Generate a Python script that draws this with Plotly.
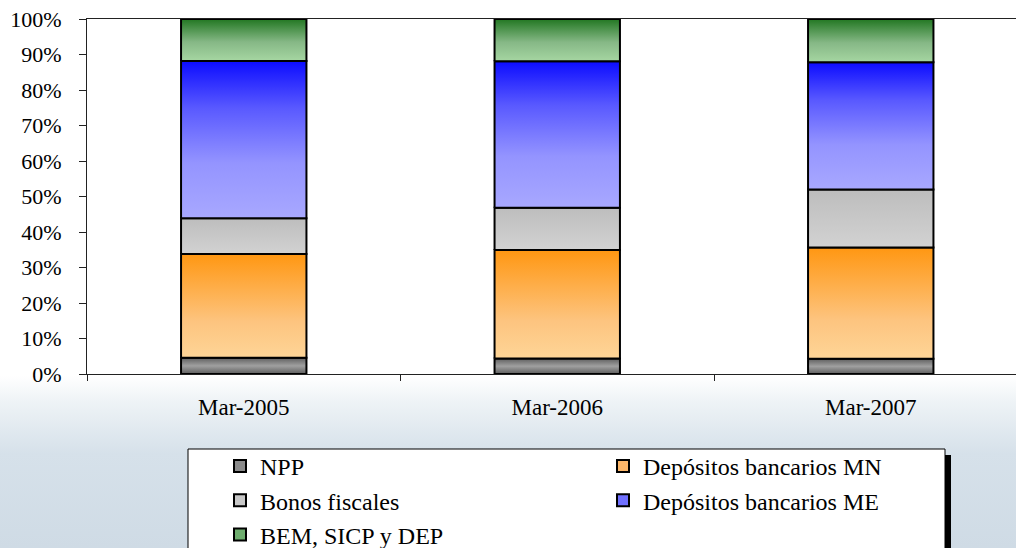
import plotly.graph_objects as go

# ---- data -------------------------------------------------------------
periods = ["Mar-2005", "Mar-2006", "Mar-2007"]
series_names = ["NPP", "Depósitos bancarios MN", "Bonos fiscales",
                "Depósitos bancarios ME", "BEM, SICP y DEP"]
npp = [4.6, 4.4, 4.3]
dep_mn = [29.2, 30.5, 31.3]
bonos = [10.1, 11.9, 16.4]
dep_me = [44.3, 41.3, 35.8]
bem = [11.8, 11.9, 12.2]
y_ticks = [0, 10, 20, 30, 40, 50, 60, 70, 80, 90, 100]
y_tick_labels = [f"{v}%" for v in y_ticks]

series_values = [npp, dep_mn, bonos, dep_me, bem]

# gradient colours (bottom -> top) and the flat colour of each legend key
gradients = [
    [[0, "#5e5e5e"], [0.5, "#a0a0a0"], [1, "#5e5e5e"]],
    [[0, "#fed597"], [0.35, "#fdc47f"], [1, "#ff9712"]],
    [[0, "#d2d2d2"], [1, "#bdbdbd"]],
    [[0, "#a8a8ff"], [0.35, "#9494ff"], [0.7, "#5959ff"], [1, "#0c0cff"]],
    [[0, "#a6d6a2"], [0.45, "#86b886"], [1, "#227722"]],
]
key_colors = ["#8a8a8a", "#fdb76a", "#c8c8c8", "#7070ff", "#6fae6f"]

# ---- geometry (pixels of the 1016 x 548 page) --------------------------
W, H = 1016, 548
PLOT_L, PLOT_R, PLOT_T, PLOT_B = 87, 1016, 19, 374
BAR_W = 0.40
X_RANGE = [-0.5, -0.5 + (PLOT_R - PLOT_L) / 313.5]


def fx(px):
    return px / W


def fy(py):
    return 1 - py / H


FONT = "Liberation Serif, Times New Roman, serif"

fig = go.Figure()

# pale backdrop fading in below the chart, on a hidden full-page subplot
# (x/y) that is drawn underneath the chart subplot (x2/y2)
bg_top = fy(376)
fig.add_trace(go.Scatter(
    x=[0, 1, 1, 0, 0], y=[0, 0, bg_top, bg_top, 0],
    xaxis="x", yaxis="y",
    mode="lines", line=dict(width=0),
    fill="toself",
    fillgradient=dict(type="vertical",
                      colorscale=[[0, "#cfdbe5"], [0.55, "#d6e1ea"],
                                  [0.85, "#eef3f6"], [1, "#ffffff"]],
                      start=0, stop=bg_top),
    hoverinfo="skip", showlegend=False,
))

# stacked bar segments, each filled with a vertical gradient
for s, (name, vals) in enumerate(zip(series_names, series_values)):
    for i in range(len(periods)):
        base = sum(series_values[k][i] for k in range(s))
        top = base + vals[i]
        x0, x1 = i - BAR_W / 2, i + BAR_W / 2
        fig.add_trace(go.Scatter(
            x=[x0, x1, x1, x0, x0],
            y=[base, base, top, top, base],
            xaxis="x2", yaxis="y2",
            mode="lines",
            fill="toself",
            fillgradient=dict(type="vertical", colorscale=gradients[s],
                              start=base, stop=top),
            line=dict(color="black", width=2),
            hoverinfo="skip",
            showlegend=False,
        ))

# legend keys
for s, name in enumerate(series_names):
    fig.add_trace(go.Bar(
        x=[None], y=[None], name=name, xaxis="x2", yaxis="y2",
        marker=dict(color=key_colors[s], line=dict(color="black", width=2)),
        showlegend=True,
    ))

shapes = [
    # legend drop shadow
    dict(type="rect", xref="paper", yref="paper",
         x0=fx(945), x1=fx(951), y0=fy(H + 5), y1=fy(455),
         fillcolor="black", line=dict(width=0), layer="above"),
    # legend frame
    dict(type="rect", xref="paper", yref="paper",
         x0=fx(188), x1=fx(945), y0=fy(H + 5), y1=fy(449),
         fillcolor="white", line=dict(color="black", width=1),
         layer="above"),
]

fig.update_layout(
    width=W, height=H,
    margin=dict(l=0, r=0, t=0, b=0, autoexpand=False),
    paper_bgcolor="white",
    plot_bgcolor="rgba(0,0,0,0)",
    font=dict(family=FONT, color="black"),
    shapes=shapes,
    showlegend=True,
    legend=dict(
        orientation="h",
        x=fx(220), xanchor="left",
        y=fy(444), yanchor="top",
        bgcolor="rgba(0,0,0,0)",
        borderwidth=0,
        font=dict(family=FONT, size=24, color="black"),
        entrywidth=338, entrywidthmode="pixels",
        traceorder="normal",
    ),
    xaxis=dict(domain=[0, 1], range=[0, 1], visible=False, anchor="y",
               fixedrange=True),
    yaxis=dict(domain=[0, 1], range=[0, 1], visible=False, anchor="x",
               fixedrange=True),
    xaxis2=dict(
        domain=[fx(PLOT_L), fx(PLOT_R)], anchor="y2",
        range=X_RANGE, automargin=False,
        tickmode="array", tickvals=list(range(len(periods))), ticktext=periods,
        ticks="", showgrid=False, zeroline=False,
        showline=True, linecolor="#222", linewidth=1, mirror=True,
        tickfont=dict(family=FONT, size=23, color="black"),
        ticklabelstandoff=12,
        minor=dict(tickmode="array", tickvals=[-0.5, 0.5, 1.5],
                   ticks="outside", ticklen=6, tickcolor="#222", tickwidth=1,
                   showgrid=False),
    ),
    yaxis2=dict(
        domain=[fy(PLOT_B), fy(PLOT_T)], anchor="x2",
        range=[0, 100], automargin=False,
        tickmode="array", tickvals=y_ticks, ticktext=y_tick_labels,
        ticks="outside", ticklen=7, tickcolor="#222",
        showgrid=False, zeroline=False,
        showline=True, linecolor="#222", linewidth=1,
        tickfont=dict(family=FONT, size=22, color="black"),
        ticklabelstandoff=13,
    ),
)

fig.write_html("out.html")
